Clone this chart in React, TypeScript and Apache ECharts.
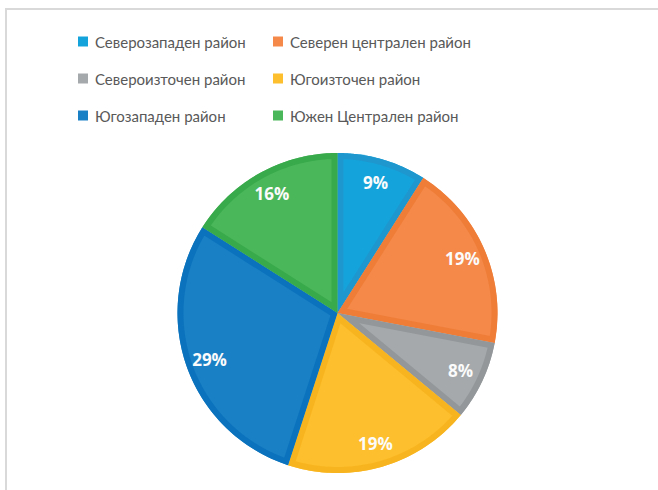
import React, { useEffect, useRef } from "react";
import * as echarts from "echarts";

const categories = [
  "Северозападен район",
  "Северен централен район",
  "Североизточен район",
  "Югоизточен район",
  "Югозападен район",
  "Южен Централен район",
];
const values = [9, 19, 8, 19, 29, 16];
const fillColors = ["#14a4db", "#f4894a", "#a5a9ab", "#fdbf2d", "#1a80c5", "#4bb75b"];
const borderColors = ["#1e97cf", "#ef7d37", "#93979a", "#f8b41f", "#0b73bd", "#39aa4c"];
const legendLeftCol = [categories[0], categories[2], categories[4]];
const legendRightCol = [categories[1], categories[3], categories[5]];

const CX = 337.5;
const CY = 313;
const R = 160;
const BAND = 6;

export default function App() {
  const ref = useRef<HTMLDivElement>(null);
  useEffect(() => {
    const chart = echarts.init(ref.current!, null, { renderer: "svg" });
    const total = values.reduce((a, b) => a + b, 0);
    const cum: number[] = [];
    values.reduce((acc, v, i) => {
      cum[i] = acc;
      return acc + v;
    }, 0);

    const legendCommon = {
      orient: "vertical" as const,
      top: 33,
      padding: 0,
      icon: "rect",
      itemWidth: 10,
      itemHeight: 10,
      itemGap: 20,
      selectedMode: false,
      textStyle: {
        color: "#595959",
        fontSize: 15,
        fontFamily: "Lato, 'Noto Sans', sans-serif",
        lineHeight: 17,
        padding: [0, 0, 0, 2],
      },
    };

    chart.setOption({
      animation: false,
      backgroundColor: "#ffffff",
      graphic: [
        { type: "line", shape: { x1: 6, y1: 9, x2: 658, y2: 9 }, style: { stroke: "#d9d9d9", lineWidth: 2 } },
        { type: "line", shape: { x1: 6, y1: 8, x2: 6, y2: 490 }, style: { stroke: "#d9d9d9", lineWidth: 2 } },
      ],
      legend: [
        { ...legendCommon, left: 78, data: legendLeftCol },
        { ...legendCommon, left: 273, data: legendRightCol },
      ],
      series: [
        {
          type: "pie",
          center: [CX, CY],
          radius: [0, R],
          startAngle: 90,
          clockwise: true,
          silent: true,
          label: { show: false },
          labelLine: { show: false },
          data: categories.map((name, i) => ({
            name,
            value: values[i],
            itemStyle: { color: fillColors[i] },
          })),
        },
        {
          type: "custom",
          coordinateSystem: "none",
          silent: true,
          z: 3,
          data: values,
          renderItem: (params: any) => {
            const i = params.dataIndex;
            const a0 = 90 - (cum[i] / total) * 360;
            const a1 = a0 - (values[i] / total) * 360;
            const half = ((a0 - a1) / 2) * (Math.PI / 180);
            const mid = ((a0 + a1) / 2) * (Math.PI / 180);
            const h = BAND / 2;
            const apexD = h / Math.sin(half);
            const pts: number[][] = [[CX + apexD * Math.cos(mid), CY - apexD * Math.sin(mid)]];
            const rho = R - h;
            const delta = (Math.asin(h / rho) * 180) / Math.PI;
            const s = a0 - delta;
            const e = a1 + delta;
            const n = 60;
            for (let k = 0; k <= n; k++) {
              const a = ((s + ((e - s) * k) / n) * Math.PI) / 180;
              pts.push([CX + rho * Math.cos(a), CY - rho * Math.sin(a)]);
            }
            return {
              type: "polygon",
              shape: { points: pts },
              style: {
                fill: "none",
                stroke: borderColors[i],
                lineWidth: BAND,
                lineJoin: "miter",
                miterLimit: 30,
              },
            };
          },
        },
        {
          type: "pie",
          center: [CX, CY],
          radius: [106, R],
          startAngle: 90,
          clockwise: true,
          silent: true,
          z: 5,
          itemStyle: { color: "rgba(0,0,0,0)", borderWidth: 0 },
          label: {
            show: true,
            position: "inside",
            formatter: "{c}%",
            color: "#fbfbfb",
            fontSize: 17,
            fontWeight: "bold",
            fontFamily: "'Open Sans', sans-serif",
          },
          labelLine: { show: false },
          data: categories.map((name, i) => ({ name, value: values[i] })),
        },
      ],
    });
    return () => chart.dispose();
  }, []);
  return <div ref={ref} style={{ position: "fixed", left: 0, top: 0, width: 658, height: 490 }} />;
}
